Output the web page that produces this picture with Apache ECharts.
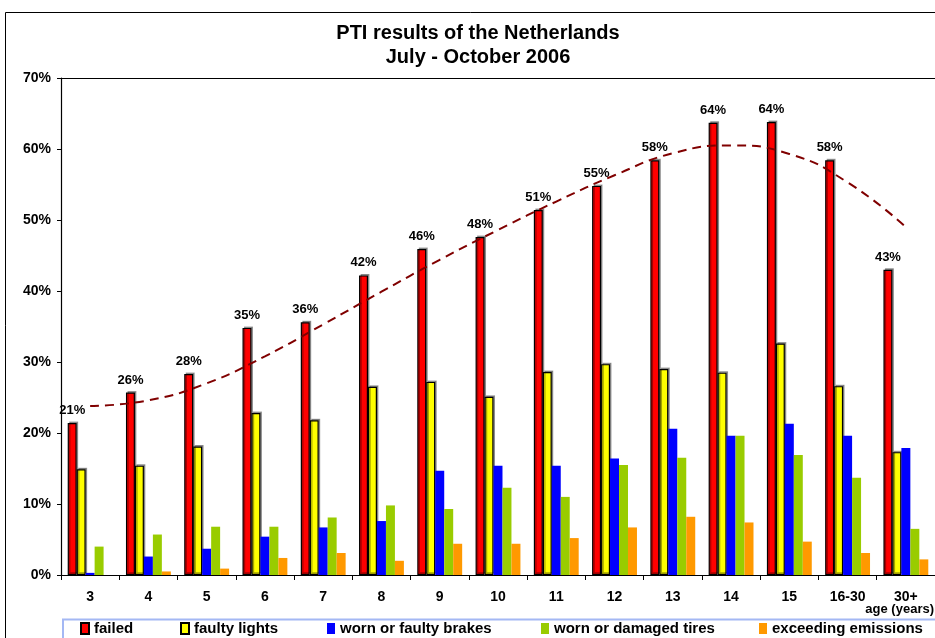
<!DOCTYPE html>
<html>
<head>
<meta charset="utf-8">
<script src="https://cdn.jsdelivr.net/npm/echarts@6/dist/echarts.min.js"></script>
<style>
html,body{margin:0;padding:0;background:#fff;}
#chart{width:935px;height:638px;}
</style>
</head>
<body>
<div id="chart"></div>
<script>
const categories = ['3','4','5','6','7','8','9','10','11','12','13','14','15','16-30','30+'];
const failed = [21.4,25.7,28.3,34.8,35.6,42.2,45.9,47.6,51.4,54.8,58.4,63.7,63.8,58.4,43.0];
const faultyLights = [14.9,15.4,18.1,22.8,21.8,26.5,27.2,25.1,28.6,29.7,29.0,28.5,32.6,26.6,17.3];
const faultyBrakes = [0.3,2.6,3.7,5.4,6.7,7.6,14.7,15.4,15.4,16.4,20.6,19.6,21.3,19.6,17.9];
const damagedTires = [4.0,5.7,6.8,6.8,8.1,9.8,9.3,12.3,11.0,15.5,16.5,19.6,16.9,13.7,6.5];
const emissions = [0,0.5,0.9,2.4,3.1,2.0,4.4,4.4,5.2,6.7,8.2,7.4,4.7,3.1,2.2];
const trend = [23.8,24.6,27.0,30.8,35.3,39.9,44.4,48.6,52.6,56.3,59.4,60.5,59.3,55.3,49.0];
const yTicks = [0,10,20,30,40,50,60,70];
const seriesNames = ['failed','faulty lights','worn or faulty brakes','worn or damaged tires','exceeding emissions'];

const FONT = "'Liberation Sans', Arial, sans-serif";
const chart = echarts.init(document.getElementById('chart'));

function barSeries(name, data, color, bordered, labelled) {
  const s = {
    name: name, type: 'bar', data: data,
    barGap: '0%', barCategoryGap: '23%',
    itemStyle: { color: color },
    emphasis: { disabled: true },
    animation: false
  };
  if (bordered) {
    s.itemStyle.borderColor = '#000';
    s.itemStyle.borderWidth = 1.2;
    s.itemStyle.shadowColor = 'rgba(0,0,0,0.35)';
    s.itemStyle.shadowOffsetX = 1.5;
    s.itemStyle.shadowOffsetY = -1.5;
    s.itemStyle.shadowBlur = 0;
  }
  if (labelled) {
    s.label = {
      show: true, position: 'top', distance: 6,
      formatter: p => Math.round(p.value) + '%',
      fontFamily: FONT, fontWeight: 'bold', fontSize: 13, color: '#000'
    };
  }
  return s;
}

const legendLefts = [80, 180, 327, 541, 759];
const legends = seriesNames.map((n, i) => ({
  data: [n], left: legendLefts[i], top: 621, padding: 0,
  itemWidth: 8, itemHeight: 11, icon: 'rect', selectedMode: false,
  textStyle: { fontFamily: FONT, fontWeight: 'bold', fontSize: 15, color: '#000' }
}));

const option = {
  animation: false,
  backgroundColor: '#fff',
  title: {
    text: 'PTI results of the Netherlands\nJuly - October 2006',
    left: 478, top: 21, padding: 0, textAlign: 'center',
    textStyle: { fontFamily: FONT, fontWeight: 'bold', fontSize: 20, lineHeight: 24, color: '#000' }
  },
  legend: legends,
  grid: { left: 61, top: 78, right: -3.5, bottom: 63, containLabel: false },
  xAxis: [
    {
      type: 'category', data: categories, position: 'bottom',
      axisLine: { show: true, lineStyle: { color: '#000', width: 1.2 } },
      axisTick: { show: true, alignWithLabel: false, length: 5, lineStyle: { color: '#000' } },
      axisLabel: { fontFamily: FONT, fontWeight: 'bold', fontSize: 14, color: '#000', margin: 15 }
    },
    {
      type: 'category', data: categories, position: 'top',
      axisLine: { show: true, lineStyle: { color: '#000', width: 1.2 } },
      axisTick: { show: false }, axisLabel: { show: false }
    }
  ],
  yAxis: {
    type: 'value', min: 0, max: 70, interval: 10,
    axisLine: { show: true, lineStyle: { color: '#000', width: 1.2 } },
    axisTick: { show: true, length: 4, lineStyle: { color: '#000' } },
    splitLine: { show: false },
    axisLabel: {
      fontFamily: FONT, fontWeight: 'bold', fontSize: 14, color: '#000', margin: 10,
      formatter: v => yTicks.includes(v) ? v + '%' : ''
    }
  },
  series: [
    barSeries(seriesNames[0], failed, '#FF0000', true, true),
    barSeries(seriesNames[1], faultyLights, '#FFFF00', true, false),
    barSeries(seriesNames[2], faultyBrakes, '#0000FF', false, false),
    barSeries(seriesNames[3], damagedTires, '#99CC00', false, false),
    barSeries(seriesNames[4], emissions, '#FF9900', false, false),
    {
      name: 'trend', type: 'line', data: trend, smooth: 0.5, showSymbol: false, symbol: 'none',
      lineStyle: { color: '#800000', width: 2, type: [9, 6] },
      z: 5, emphasis: { disabled: true }, animation: false
    }
  ],
  graphic: [
    { type: 'rect', shape: { x: 5.5, y: 12.5, width: 1000, height: 1000 },
      style: { fill: 'none', stroke: '#000', lineWidth: 1 }, silent: true, z: -1 },
    { type: 'rect', shape: { x: 63, y: 619.5, width: 1000, height: 60 },
      style: { fill: 'none', stroke: '#a4b8f4', lineWidth: 2 }, silent: true, z: -1 },
    { type: 'text', right: 1, top: 603,
      style: { text: 'age (years)', font: 'bold 13px ' + FONT, fill: '#000' }, silent: true }
  ]
};
chart.setOption(option);
</script>
</body>
</html>
